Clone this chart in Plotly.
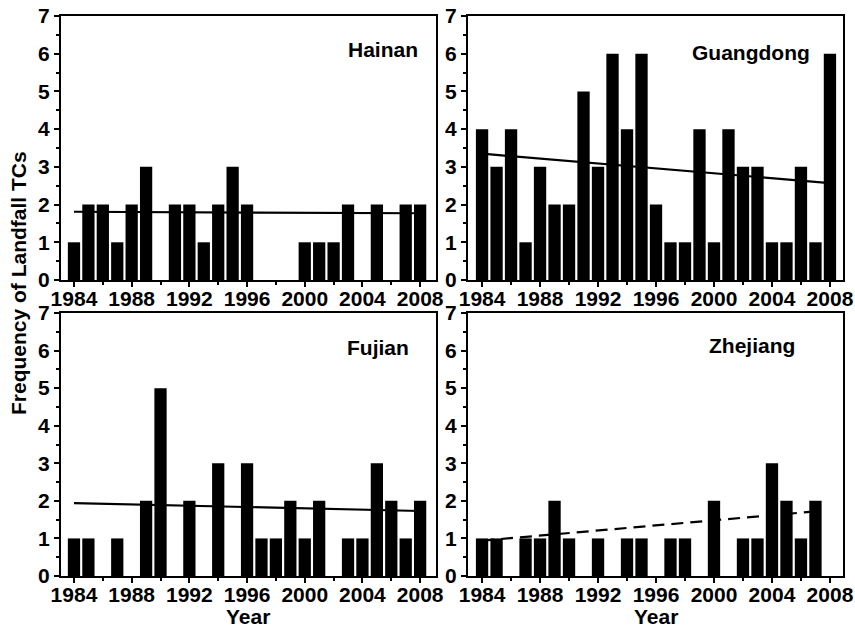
import plotly.graph_objects as go

years = list(range(1984, 2009))

hainan = [1, 2, 2, 1, 2, 3, 0, 2, 2, 1, 2, 3, 2, 0, 0, 0, 1, 1, 1, 2, 0, 2, 0, 2, 2]
guangdong = [4, 3, 4, 1, 3, 2, 2, 5, 3, 6, 4, 6, 2, 1, 1, 4, 1, 4, 3, 3, 1, 1, 3, 1, 6]
fujian = [1, 1, 0, 1, 0, 2, 5, 0, 2, 0, 3, 0, 3, 1, 1, 2, 1, 2, 0, 1, 1, 3, 2, 1, 2]
zhejiang = [1, 1, 0, 1, 1, 2, 1, 0, 1, 0, 1, 1, 0, 1, 1, 0, 2, 0, 1, 1, 3, 2, 1, 2, 0]

# trend line end points
hainan_trend_x = [1984, 2008]
hainan_trend_y = [1.81, 1.77]
guangdong_trend_x = [1984, 2008]
guangdong_trend_y = [3.35, 2.57]
fujian_trend_x = [1984, 2008]
fujian_trend_y = [1.94, 1.73]
zhejiang_trend_x = [1984, 2007]
zhejiang_trend_y = [0.94, 1.72]

panel_names = ["Hainan", "Guangdong", "Fujian", "Zhejiang"]
x_ticks = [1984, 1988, 1992, 1996, 2000, 2004, 2008]
y_ticks = [0, 1, 2, 3, 4, 5, 6, 7]

W, H = 855, 629
FONT = "Liberation Sans"

def px_dom(a, b, total):
    return [a / total, b / total]

def py_dom(top, bottom):
    return [1 - bottom / H, 1 - top / H]

panels = [
    dict(data=hainan, tx=hainan_trend_x, ty=hainan_trend_y, dash="solid",
         xd=px_dom(61, 436, W), yd=py_dom(16, 280), xr=[1983.1, 2009.1],
         title=panel_names[0], tpos=(383, 49)),
    dict(data=guangdong, tx=guangdong_trend_x, ty=guangdong_trend_y, dash="solid",
         xd=px_dom(468, 843, W), yd=py_dom(16, 280), xr=[1983.03, 2008.9],
         title=panel_names[1], tpos=(751, 53)),
    dict(data=fujian, tx=fujian_trend_x, ty=fujian_trend_y, dash="solid",
         xd=px_dom(61, 436, W), yd=py_dom(313, 576), xr=[1983.1, 2009.1],
         title=panel_names[2], tpos=(378, 347)),
    dict(data=zhejiang, tx=zhejiang_trend_x, ty=zhejiang_trend_y, dash="12px,7px",
         xd=px_dom(468, 843, W), yd=py_dom(313, 576), xr=[1983.03, 2008.9],
         title=panel_names[3], tpos=(752, 345)),
]

fig = go.Figure()
tickfont = dict(family=FONT, size=21, color="black", weight="bold")
layout = dict(
    width=W, height=H,
    margin=dict(l=0, r=0, t=0, b=0, pad=0, autoexpand=False),
    paper_bgcolor="white", plot_bgcolor="white",
    showlegend=False,
    annotations=[],
)

for i, p in enumerate(panels):
    n = "" if i == 0 else str(i + 1)
    xa, ya = "x" + n, "y" + n
    fig.add_trace(go.Bar(x=years, y=p["data"], width=0.85, marker=dict(color="black", line=dict(width=0)),
                         xaxis=xa, yaxis=ya))
    fig.add_trace(go.Scatter(x=p["tx"], y=p["ty"], mode="lines",
                             line=dict(color="black", width=2.2, dash=p["dash"]),
                             xaxis=xa, yaxis=ya))
    layout["xaxis" + n] = dict(
        domain=p["xd"], anchor=ya, range=p["xr"], tickmode="array", tickvals=x_ticks,
        ticktext=[str(v) for v in x_ticks],
        ticks="outside", ticklen=5, tickwidth=2, tickcolor="black",
        minor=dict(ticks="outside", ticklen=3, tickwidth=1.5, tickcolor="black", dtick=2, tick0=1984),
        showline=True, linecolor="black", linewidth=2, mirror=True,
        showgrid=False, zeroline=False, tickfont=tickfont, automargin=False,
        ticklabelstandoff=-6,
    )
    layout["yaxis" + n] = dict(
        domain=p["yd"], anchor=xa, range=[0, 7], tickmode="array", tickvals=y_ticks,
        ticks="outside", ticklen=5, tickwidth=2, tickcolor="black",
        minor=dict(ticks="outside", ticklen=3, tickwidth=1.5, tickcolor="black", dtick=0.5, tick0=0),
        showline=True, linecolor="black", linewidth=2, mirror=True,
        showgrid=False, zeroline=False, tickfont=tickfont, automargin=False,
    )
    layout["annotations"].append(dict(
        text=p["title"], x=p["tpos"][0] / W, y=1 - p["tpos"][1] / H, xref="paper", yref="paper",
        xanchor="center", yanchor="middle", showarrow=False,
        font=dict(family=FONT, size=21, color="black", weight="bold")))

layout["annotations"].append(dict(
    text="Frequency of Landfall TCs", x=19 / W, y=1 - 283 / H, xref="paper", yref="paper",
    xanchor="center", yanchor="middle", textangle=-90, showarrow=False,
    font=dict(family=FONT, size=21, color="black", weight="bold")))
for cx in (248, 656):
    layout["annotations"].append(dict(
        text="Year", x=cx / W, y=1 - 616 / H, xref="paper", yref="paper",
        xanchor="center", yanchor="middle", showarrow=False,
        font=dict(family=FONT, size=21, color="black", weight="bold")))

fig.update_layout(**layout)
fig.write_html("out.html")
